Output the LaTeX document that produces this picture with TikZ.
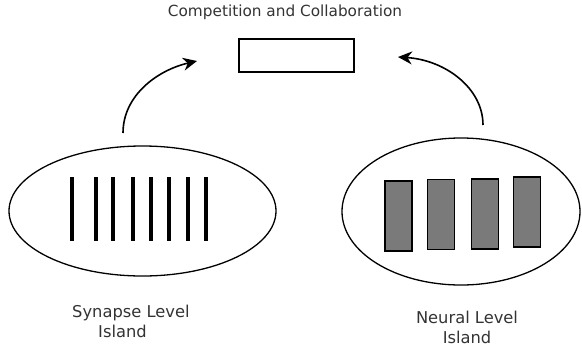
\documentclass[tikz,border=0pt]{standalone}
\usepackage{fontspec}
\setmainfont{DejaVu Sans}
\usepackage{tikz}
\usetikzlibrary{shapes.geometric,arrows.meta}
\tikzstyle{island}=[draw, ellipse, line width=1.3pt, inner sep=0pt]
\tikzstyle{pool}=[draw, line width=1.6pt, minimum width=115pt,
  minimum height=33pt, inner sep=0pt]
\tikzstyle{neuron}=[draw, fill=black!52, line width=1.4pt,
  minimum width=27pt, minimum height=70pt, inner sep=0pt]
\tikzstyle{synapse}=[draw, line width=3.6pt]
\tikzstyle{texto}=[font=\fontsize{16.3}{20}\selectfont, text=black!80,
  inner sep=0pt]
\tikzstyle{line}=[draw, line width=1.6pt, -{Stealth[length=14pt,width=13pt]}]

\begin{document}
\begin{tikzpicture}[x=1pt,y=-1pt]
  \useasboundingbox (0,0) rectangle (582,354);

  % Draw diagram elements
  \node (t1) [texto, font=\fontsize{15.3}{18}\selectfont, anchor=base]
    at (285,16.7) {Competition and Collaboration};
  \node (p1) [pool] at (296.5,55.5) {};

  \node (i1) [island, minimum width=267pt, minimum height=130pt] at (142.5,211) {};
  \node (i2) [island, minimum width=238pt, minimum height=147pt] at (461,211.5) {};

  \foreach \x in {72,96,113,133,151,169,188,206}
    \path [synapse] (\x,177) -- (\x,241);

  \foreach \x/\y [count=\i] in {398.5/216,441/214.5,485/214,527/212}
    \node (n\i) [neuron] at (\x,\y) {};

  \node (l1) [texto, align=left, anchor=north west] at (72,305)
    {Synapse Level\\\hspace*{26pt}Island};
  \node (l2) [texto, align=center, anchor=north] at (467,311)
    {Neural Level\\Island};

  % Draw arrows between elements
  \coordinate (a1) at (123,133);
  \coordinate (b1) at (197,61);
  \coordinate (a2) at (483,125);
  \coordinate (b2) at (398,57);
  \path [line] (a1) .. controls (123,95) and (158,70) .. (b1);
  \path [line] (a2) .. controls (483,88) and (445,60) .. (b2);
\end{tikzpicture}
\end{document}
